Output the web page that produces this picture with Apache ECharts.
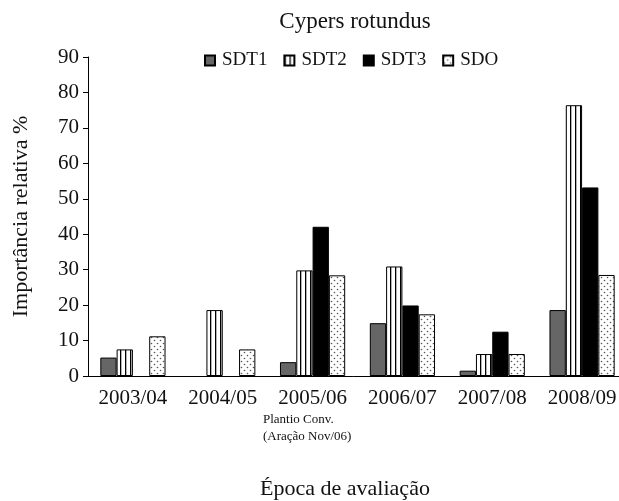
<!DOCTYPE html>
<html>
<head>
<meta charset="utf-8">
<script src="https://cdn.jsdelivr.net/npm/echarts@6/dist/echarts.min.js"></script>
<style>html,body{margin:0;padding:0;background:#fff}#c{width:619px;height:501px}</style>
</head>
<body>
<div id="c"></div>
<script>
const categories = ['2003/04', '2004/05', '2005/06', '2006/07', '2007/08', '2008/09'];
const sdt1 = [5.2, null, 3.9, 14.9, 1.5, 18.6];
const sdt2 = [7.5, 18.6, 29.8, 30.9, 6.2, 76.4];
const sdt3 = [null, null, 42.1, 19.9, 12.5, 53.2];
const sdo = [11.2, 7.5, 28.4, 17.4, 6.2, 28.5];
const yTicks = [0, 10, 20, 30, 40, 50, 60, 70, 80, 90];

function stripePattern() {
  const c = document.createElement('canvas');
  c.width = 5; c.height = 10;
  const g = c.getContext('2d');
  g.fillStyle = '#fff'; g.fillRect(0, 0, 5, 10);
  g.fillStyle = '#000'; g.fillRect(0, 0, 1.3, 10);
  return c;
}
function dotPattern() {
  const c = document.createElement('canvas');
  c.width = 6; c.height = 6;
  const g = c.getContext('2d');
  g.fillStyle = '#fff'; g.fillRect(0, 0, 6, 6);
  g.fillStyle = '#555';
  g.beginPath(); g.arc(1.5, 1.5, 0.8, 0, Math.PI * 2); g.fill();
  g.beginPath(); g.arc(4.5, 4.5, 0.8, 0, Math.PI * 2); g.fill();
  return c;
}

const serif = 'Liberation Serif';
const ink = '#111';
const chart = echarts.init(document.getElementById('c'));
const base = { type: 'bar', barWidth: 16.3, barGap: '0%' };
chart.setOption({
  animation: false,
  textStyle: { fontFamily: serif },
  title: {
    text: 'Cypers rotundus', left: 350, top: 5, textAlign: 'center',
    textStyle: { fontFamily: serif, fontSize: 23, fontWeight: 'normal', color: ink }
  },
  legend: {
    left: 199, top: 46, itemWidth: 10, itemHeight: 10, itemGap: 16,
    icon: 'rect',
    textStyle: { fontFamily: serif, fontSize: 19, color: ink, padding: [0, 0, 0, 2] },
    data: ['SDT1', 'SDT2', 'SDT3', 'SDO']
  },
  grid: { left: 88, top: 57, width: 539, height: 319, outerBoundsMode: 'none', containLabel: false },
  xAxis: {
    type: 'category', data: categories, boundaryGap: true,
    name: 'Época de avaliação', nameLocation: 'middle', nameGap: 102,
    nameTextStyle: { fontFamily: serif, fontSize: 22, color: ink, padding: [0, 25, 0, 0] },
    axisLine: { lineStyle: { color: '#000', width: 1 } },
    axisTick: { length: 11, lineStyle: { color: '#000' } },
    axisLabel: { fontFamily: serif, fontSize: 21, color: ink, margin: 12 }
  },
  yAxis: {
    type: 'value', min: yTicks[0], max: yTicks[yTicks.length - 1], interval: 10,
    name: 'Importância relativa %', nameLocation: 'middle', nameGap: 56,
    nameTextStyle: { fontFamily: serif, fontSize: 22, color: ink },
    splitLine: { show: false },
    axisLine: { show: true, lineStyle: { color: '#000', width: 1 } },
    axisTick: { show: true, length: 5, lineStyle: { color: '#000' } },
    axisLabel: { fontFamily: serif, fontSize: 21, color: ink, margin: 9 }
  },
  graphic: [
    { type: 'text', left: 263, top: 411, style: { text: 'Plantio Conv.\n(Aração Nov/06)', font: '13px "Liberation Serif"', fill: ink, lineHeight: 17 } }
  ],
  series: [
    Object.assign({}, base, { name: 'SDT1', data: sdt1, itemStyle: { color: '#666', borderColor: '#000', borderWidth: 1 } }),
    Object.assign({}, base, { name: 'SDT2', data: sdt2, itemStyle: { color: { image: stripePattern(), repeat: 'repeat' }, borderColor: '#000', borderWidth: 1 } }),
    Object.assign({}, base, { name: 'SDT3', data: sdt3, itemStyle: { color: '#000', borderColor: '#000', borderWidth: 1 } }),
    Object.assign({}, base, { name: 'SDO', data: sdo, itemStyle: { color: { image: dotPattern(), repeat: 'repeat' }, borderColor: '#000', borderWidth: 1 } })
  ]
});
</script>
</body>
</html>
